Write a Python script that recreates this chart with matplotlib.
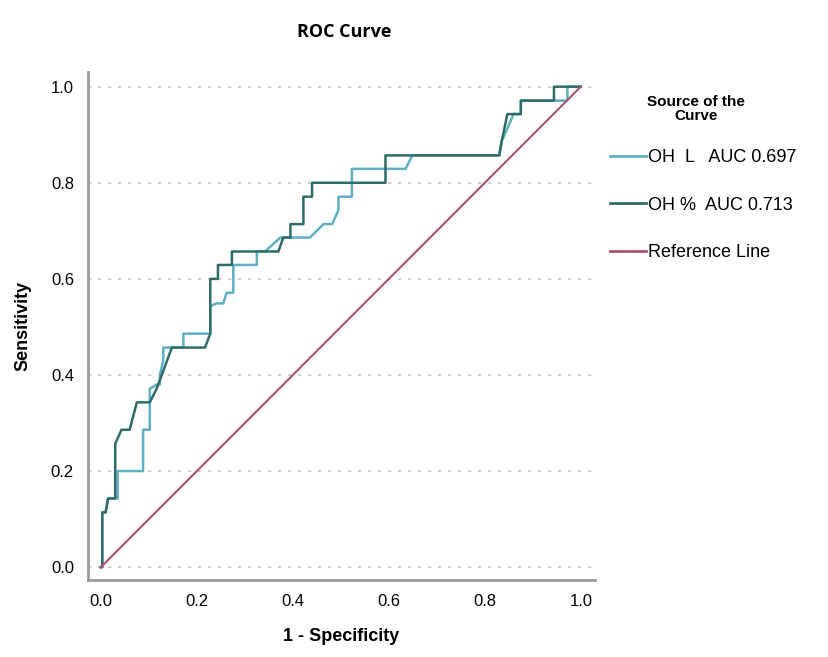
import matplotlib.pyplot as plt
from matplotlib.lines import Line2D

# ROC points (1 - specificity, sensitivity)
oh_l_x = [0, 0.003, 0.003, 0.01, 0.015, 0.035, 0.035, 0.088, 0.088, 0.102, 0.102, 0.116, 0.123,
          0.123, 0.13, 0.13, 0.172, 0.172, 0.228, 0.228, 0.241, 0.255, 0.262, 0.276, 0.276,
          0.325, 0.325, 0.342, 0.374, 0.436, 0.464, 0.482, 0.495, 0.495, 0.523, 0.523,
          0.635, 0.649, 0.83, 0.835, 0.86, 0.875, 0.875, 0.972, 0.972, 1.0]
oh_l_y = [0, 0, 0.114, 0.114, 0.143, 0.143, 0.2, 0.2, 0.286, 0.286, 0.371, 0.38, 0.38,
          0.4, 0.43, 0.457, 0.457, 0.486, 0.486, 0.543, 0.549, 0.549, 0.571, 0.571, 0.629,
          0.629, 0.657, 0.657, 0.686, 0.686, 0.714, 0.714, 0.743, 0.771, 0.771, 0.829,
          0.829, 0.857, 0.857, 0.886, 0.943, 0.943, 0.971, 0.971, 1.0, 1.0]

oh_pct_x = [0, 0.003, 0.003, 0.01, 0.015, 0.03, 0.03, 0.043, 0.06, 0.075, 0.102, 0.116, 0.127,
            0.148, 0.217, 0.228, 0.228, 0.244, 0.244, 0.273, 0.273, 0.37, 0.38, 0.395, 0.395,
            0.422, 0.422, 0.44, 0.44, 0.593, 0.593, 0.83, 0.835, 0.847, 0.875, 0.875, 0.944,
            0.944, 1.0]
oh_pct_y = [0, 0, 0.114, 0.114, 0.143, 0.143, 0.257, 0.286, 0.286, 0.343, 0.343, 0.371, 0.4,
            0.457, 0.457, 0.486, 0.6, 0.6, 0.629, 0.629, 0.657, 0.657, 0.686, 0.686, 0.714,
            0.714, 0.771, 0.771, 0.8, 0.8, 0.857, 0.857, 0.886, 0.943, 0.943, 0.971, 0.971,
            1.0, 1.0]

ref_x = [0, 1]
ref_y = [0, 1]

ticks = [0.0, 0.2, 0.4, 0.6, 0.8, 1.0]
labels = ['OH  L   AUC 0.697', 'OH %  AUC 0.713', 'Reference Line']
colors = ['#5fb0c4', '#2f6b68', '#a8546e']

plt.rcParams['font.family'] = ['Liberation Sans', 'DejaVu Sans']

fig = plt.figure(figsize=(8.29, 6.57), dpi=100)
ax = fig.add_axes([0.106, 0.117, 0.612, 0.773])

ax.plot(oh_l_x, oh_l_y, color=colors[0], lw=1.8)
ax.plot(oh_pct_x, oh_pct_y, color=colors[1], lw=1.8)
ax.plot(ref_x, ref_y, color=colors[2], lw=1.5)

ax.set_xlim(-0.027, 1.03)
ax.set_ylim(-0.027, 1.03)
ax.set_xticks(ticks)
ax.set_yticks(ticks)
ax.set_xticklabels([f'{t:.1f}' for t in ticks], fontsize=12)
ax.set_yticklabels([f'{t:.1f}' for t in ticks], fontsize=12)
ax.tick_params(length=0, pad=10)
ax.yaxis.grid(True, linestyle=(0, (2, 4)), color='#c8c8c8', lw=1.2)
ax.set_axisbelow(True)

for s in ['top', 'right']:
    ax.spines[s].set_visible(False)
for s in ['left', 'bottom']:
    ax.spines[s].set_color('#9a9a9a')
    ax.spines[s].set_linewidth(2)

ax.set_xlabel('1 - Specificity', fontsize=13, fontweight='bold', labelpad=14)
ax.set_ylabel('Sensitivity', fontsize=13, fontweight='bold', labelpad=14)
fig.text(0.415, 0.952, 'ROC Curve', fontsize=13, fontweight='bold',
         family=['Open Sans', 'DejaVu Sans'], ha='center', va='center')

# legend title drawn on its own so the gap to the entries matches
fig.text(0.84, 0.834, 'Source of the\nCurve', fontsize=11, fontweight='bold',
         ha='center', va='center', multialignment='center', linespacing=1.0)

handles = [Line2D([0], [0], color=c, lw=2) for c in colors]
fig.legend(handles, labels, loc='upper left', bbox_to_anchor=(0.716, 0.798),
           frameon=False, fontsize=13, handlelength=2.0, handletextpad=0.1,
           labelspacing=1.7)

fig.savefig('out.png', dpi=100)
